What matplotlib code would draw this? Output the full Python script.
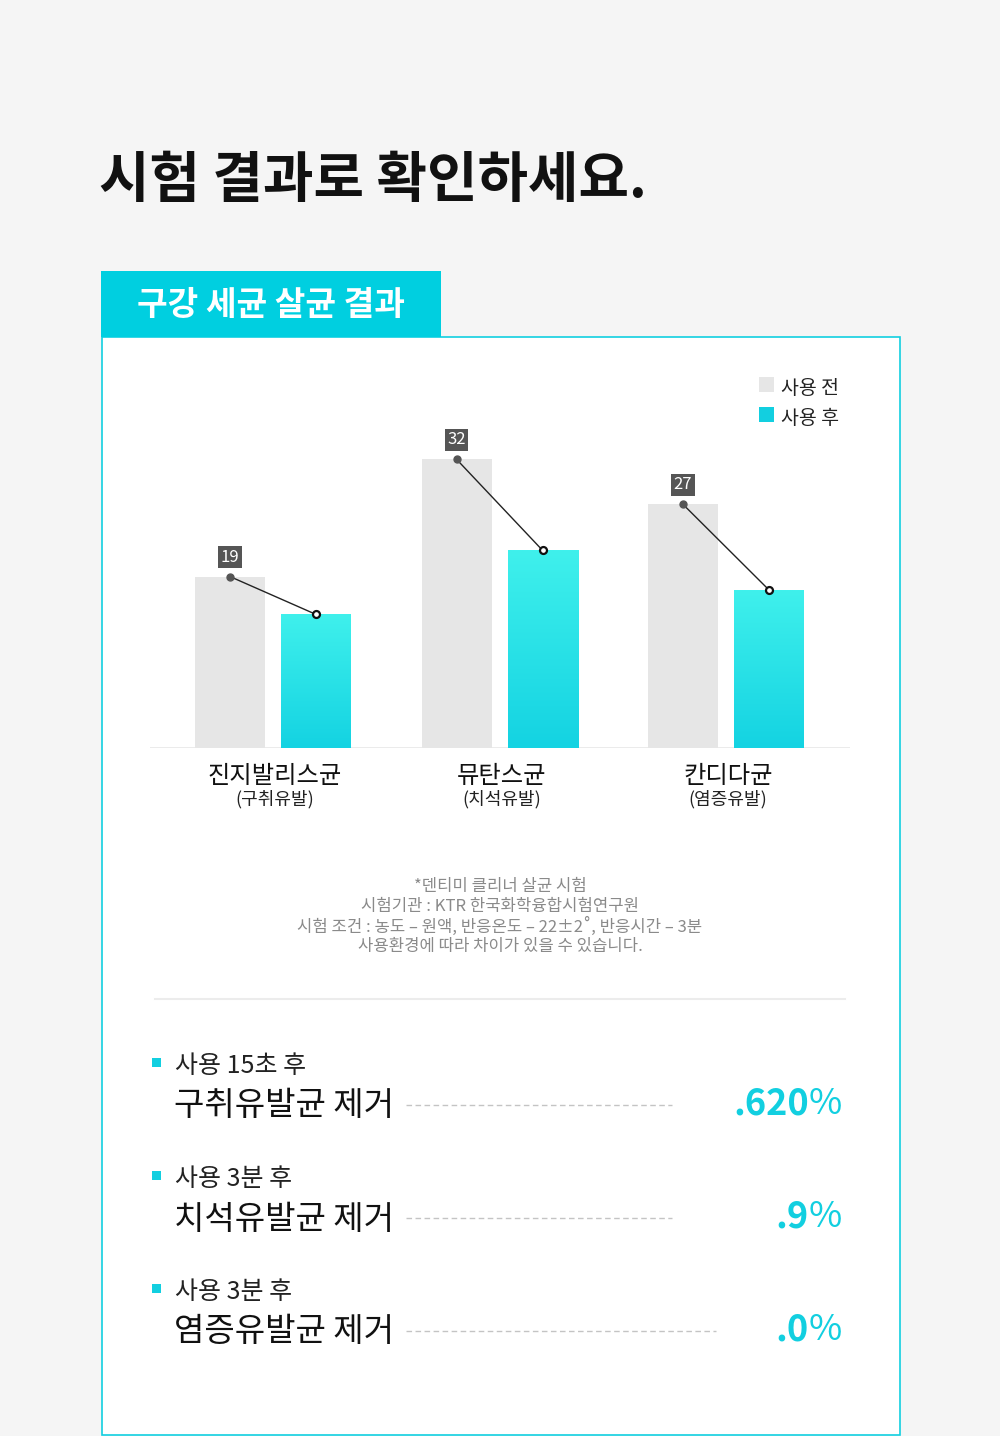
import numpy as np
import matplotlib.pyplot as plt
from matplotlib.patches import Rectangle
from matplotlib.colors import LinearSegmentedColormap

plt.rcParams['font.family'] = ['Noto Sans CJK KR', 'DejaVu Sans']

# 데이터
categories = ['진지발리스균', '뮤탄스균', '칸디다균']
sub_labels = ['(구취유발)', '(치석유발)', '(염증유발)']
before = [19, 32, 27]
after = [14.8, 21.9, 17.5]
legend_labels = ['사용 전', '사용 후']

note_lines = ['*덴티미 클리너 살균 시험',
              '시험기관 : KTR 한국화학융합시험연구원',
              '시험 조건 : 농도 – 원액, 반응온도 – 22±2˚, 반응시간 – 3분',
              '사용환경에 따라 차이가 있을 수 있습니다.']

row_times = ['사용 15초 후', '사용 3분 후', '사용 3분 후']
row_names = ['구취유발균 제거', '치석유발균 제거', '염증유발균 제거']
row_values = ['.620', '.9', '.0']

CYAN = '#12cfe0'
GRAY = '#e6e6e6'
BG = '#f5f5f5'
DY = 3  # 세로 중앙 보정

fig = plt.figure(figsize=(10, 14.36), dpi=100)
fig.patch.set_facecolor(BG)

# 배경용 축 (픽셀 좌표)
bg = fig.add_axes([0, 0, 1, 1])
bg.set_xlim(0, 1000)
bg.set_ylim(1436, 0)
bg.axis('off')

bg.text(99, 180, '시험 결과로 확인하세요.', fontsize=39.5, fontweight='bold',
        color='#111111', ha='left', va='center')

# 흰 박스 + 탭
bg.add_patch(Rectangle((101.5, 336.5), 798, 1098, facecolor='white',
                       edgecolor=CYAN, lw=1.2))
bg.add_patch(Rectangle((101, 271), 340, 66, facecolor='#00cfe0', edgecolor='none'))
bg.text(271, 303 + DY, '구강 세균 살균 결과', fontsize=24, fontweight='bold',
        color='white', ha='center', va='center')

# 범례
bg.add_patch(Rectangle((759, 377), 15, 15, facecolor=GRAY, edgecolor='none'))
bg.add_patch(Rectangle((759, 407), 15, 15, facecolor=CYAN, edgecolor='none'))
bg.text(781, 385 + DY, legend_labels[0], fontsize=14, color='#222222', va='center')
bg.text(781, 415 + DY, legend_labels[1], fontsize=14, color='#222222', va='center')

# 막대 차트
ax = fig.add_axes([150 / 1000, (1436 - 748) / 1436, 700 / 1000, 388 / 1436])
ax.patch.set_alpha(0)
x = np.arange(len(categories))
w = 0.309
off = 0.19
b1 = ax.bar(x - off, before, w, color=GRAY, zorder=1)
b2 = ax.bar(x + off, after, w, color='none', zorder=1)

grad = np.linspace(0, 1, 100).reshape(-1, 1)
cmap = LinearSegmentedColormap.from_list('cy', ['#14d3e2', '#3ff0ec'])
for r in b2:
    ax.imshow(grad, extent=(r.get_x(), r.get_x() + r.get_width(), 0, r.get_height()),
              origin='lower', cmap=cmap, aspect='auto', zorder=1)

for i in range(len(categories)):
    ax.plot([x[i] - off, x[i] + off], [before[i], after[i]], color='#222222', lw=1, zorder=3)
    ax.plot(x[i] - off, before[i], 'o', ms=5, color='#555555', zorder=4)
    ax.plot(x[i] + off, after[i], 'o', ms=5, mfc='white', mec='#111111', mew=1.6, zorder=4)
    ax.annotate(str(before[i]), (x[i] - off, before[i]), xytext=(0, 14),
                textcoords='offset points', ha='center', va='center', fontsize=12,
                color='white',
                bbox=dict(boxstyle='square,pad=0.15', fc='#555555', ec='none'))

ax.axhline(0, color='#e8e8e8', lw=1.2, zorder=0)
ax.set_xlim(-0.543, 2.547)
ax.set_ylim(0, 43)
ax.axis('off')

# 카테고리 라벨
for i, (c, s) in enumerate(zip(categories, sub_labels)):
    cx = 150 + (x[i] + 0.543) / 3.09 * 700
    bg.text(cx + 2, 773 + DY, c, fontsize=17.5, color='#111111', ha='center', va='center')
    bg.text(cx + 2, 798 + 1, s, fontsize=13, color='#222222', ha='center', va='center')

# 주석
for j, line in enumerate(note_lines):
    bg.text(500, 884 + 20 * j + 2, line, fontsize=12, color='#8a8a8a',
            ha='center', va='center')

bg.plot([155, 845], [999, 999], color='#ececec', lw=1.5)

# 하단 결과
row_y = [1063, 1176, 1289]
dash_end = [672, 672, 716]
for k in range(3):
    y0 = row_y[k]
    bg.add_patch(Rectangle((152, y0 - 5), 9, 9, facecolor=CYAN, edgecolor='none'))
    bg.text(175, y0 + DY, row_times[k], fontsize=18, color='#222222', va='center')
    bg.text(174, y0 + 39 + DY + 1, row_names[k], fontsize=23.8, fontweight='medium',
            color='#111111', va='center')
    bg.plot([406, dash_end[k]], [y0 + 42, y0 + 42], color='#c4c4c4', lw=1,
            linestyle=(0, (4, 2.5)))
    pct = bg.text(842, y0 + 41, '%', fontsize=26, fontweight='light', color=CYAN,
                  ha='right', va='center')
    bg.annotate(row_values[k], xy=(0, 0.5), xycoords=pct, fontsize=26,
                fontweight='bold', color=CYAN, ha='right', va='center')

fig.savefig('out.png', dpi=100, facecolor=BG)
